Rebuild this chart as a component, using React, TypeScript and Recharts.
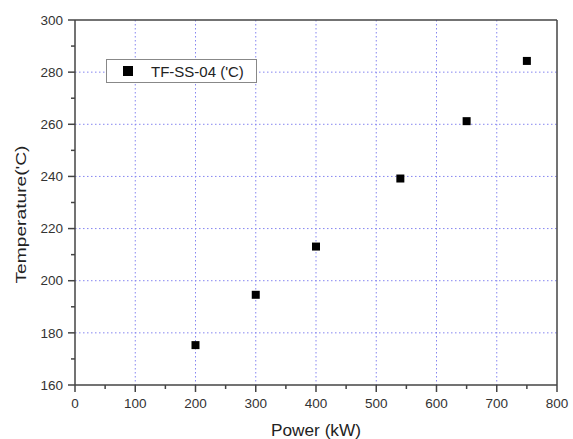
import React from "react";
import { ScatterChart, Scatter, XAxis, YAxis, ZAxis, CartesianGrid, ReferenceLine, Legend } from "recharts";

// power (kW) vs measured temperature
const powers = [200, 300, 400, 540, 650, 750];
const temps = [175.3, 194.6, 213.1, 239.2, 261.2, 284.3];

const xTicks = [0, 50, 100, 150, 200, 250, 300, 350, 400, 450, 500, 550, 600, 650, 700, 750, 800];
const yTicks = [160, 170, 180, 190, 200, 210, 220, 230, 240, 250, 260, 270, 280, 290, 300];
const xGrid = [100, 200, 300, 400, 500, 600, 700];
const yGrid = [180, 200, 220, 240, 260, 280];

const seriesName = "TF-SS-04 ('C)";
const xTitle = "Power (kW)";
const yTitle = "Temperature('C)";

const data = powers.map((p, i) => ({ power: p, temp: temps[i] }));

const FONT = "'Liberation Sans', Arial, sans-serif";
const AXIS = "#444";

const XTick = (props: any) => {
  const { x, y, payload } = props;
  const major = payload.value % 100 === 0;
  return (
    <g>
      <line x1={x} x2={x} y1={y} y2={y + (major ? 7 : 4)} stroke={AXIS} strokeWidth={1.5} />
      {major && (
        <text x={x} y={y + 13} dy="0.71em" textAnchor="middle" fontSize={13.5} fill="#333" fontFamily={FONT}>
          {payload.value}
        </text>
      )}
    </g>
  );
};

const YTick = (props: any) => {
  const { x, y, payload } = props;
  const major = payload.value % 20 === 0;
  return (
    <g>
      <line x1={x} x2={x - (major ? 7 : 4)} y1={y} y2={y} stroke={AXIS} strokeWidth={1.5} />
      {major && (
        <text x={x - 12} y={y} dy="0.35em" textAnchor="end" fontSize={13.5} fill="#333" fontFamily={FONT}>
          {payload.value}
        </text>
      )}
    </g>
  );
};

const XTitle = (props: any) => {
  const { x, y, width, height } = props.viewBox;
  return (
    <text
      x={x + width / 2}
      y={y + height - 3}
      textAnchor="middle"
      fontSize={16}
      fill="#222"
      fontFamily={FONT}
      textLength={90}
      lengthAdjust="spacingAndGlyphs"
    >
      {xTitle}
    </text>
  );
};

const YTitle = (props: any) => {
  const { y, height } = props.viewBox;
  const cx = 21;
  const cy = y + height / 2 + 12;
  return (
    <text
      x={cx}
      y={cy}
      dy="0.35em"
      transform={`rotate(-90, ${cx}, ${cy})`}
      textAnchor="middle"
      fontSize={15}
      fill="#222"
      fontFamily={FONT}
      textLength={138}
      lengthAdjust="spacingAndGlyphs"
    >
      {yTitle}
    </text>
  );
};

const LegendBox = () => (
  <div
    style={{
      display: "flex",
      alignItems: "center",
      width: 149,
      height: 22,
      border: "1px solid #888",
      background: "white",
      fontFamily: FONT,
      fontSize: 15,
      color: "#222",
    }}
  >
    <span style={{ display: "inline-block", width: 10, height: 10, background: "#000", marginLeft: 16, marginRight: 18 }} />
    <span>{seriesName}</span>
  </div>
);

export default function App() {
  return (
    <div style={{ position: "fixed", left: 0, top: 0, width: 573, height: 439, background: "white" }}>
      <ScatterChart width={573} height={439} margin={{ top: 20, right: 16, left: 0, bottom: 0 }}>
        <CartesianGrid
          stroke="#8585f0"
          strokeDasharray="1.5 2.5"
          verticalValues={xGrid}
          horizontalValues={yGrid}
        />
        <XAxis
          dataKey="power"
          type="number"
          domain={[0, 800]}
          ticks={xTicks}
          interval={0}
          height={54}
          tickSize={0}
          tickMargin={0}
          tickLine={false}
          tick={XTick}
          axisLine={{ stroke: AXIS, strokeWidth: 1.5 }}
          label={XTitle}
        />
        <YAxis
          dataKey="temp"
          type="number"
          domain={[160, 300]}
          ticks={yTicks}
          interval={0}
          width={75}
          tickSize={0}
          tickMargin={0}
          tickLine={false}
          tick={YTick}
          axisLine={{ stroke: AXIS, strokeWidth: 1.5 }}
          label={YTitle}
        />
        <ZAxis range={[105, 105]} />
        <ReferenceLine y={300} stroke={AXIS} strokeWidth={1.5} ifOverflow="visible" />
        <ReferenceLine x={800} stroke={AXIS} strokeWidth={1.5} ifOverflow="visible" />
        <Legend
          layout="horizontal"
          verticalAlign="middle"
          align="center"
          content={LegendBox}
          wrapperStyle={{ position: "absolute", left: 106, top: 59, width: "auto" }}
        />
        <Scatter name={seriesName} data={data} fill="#000" shape="square" isAnimationActive={false} />
      </ScatterChart>
    </div>
  );
}
